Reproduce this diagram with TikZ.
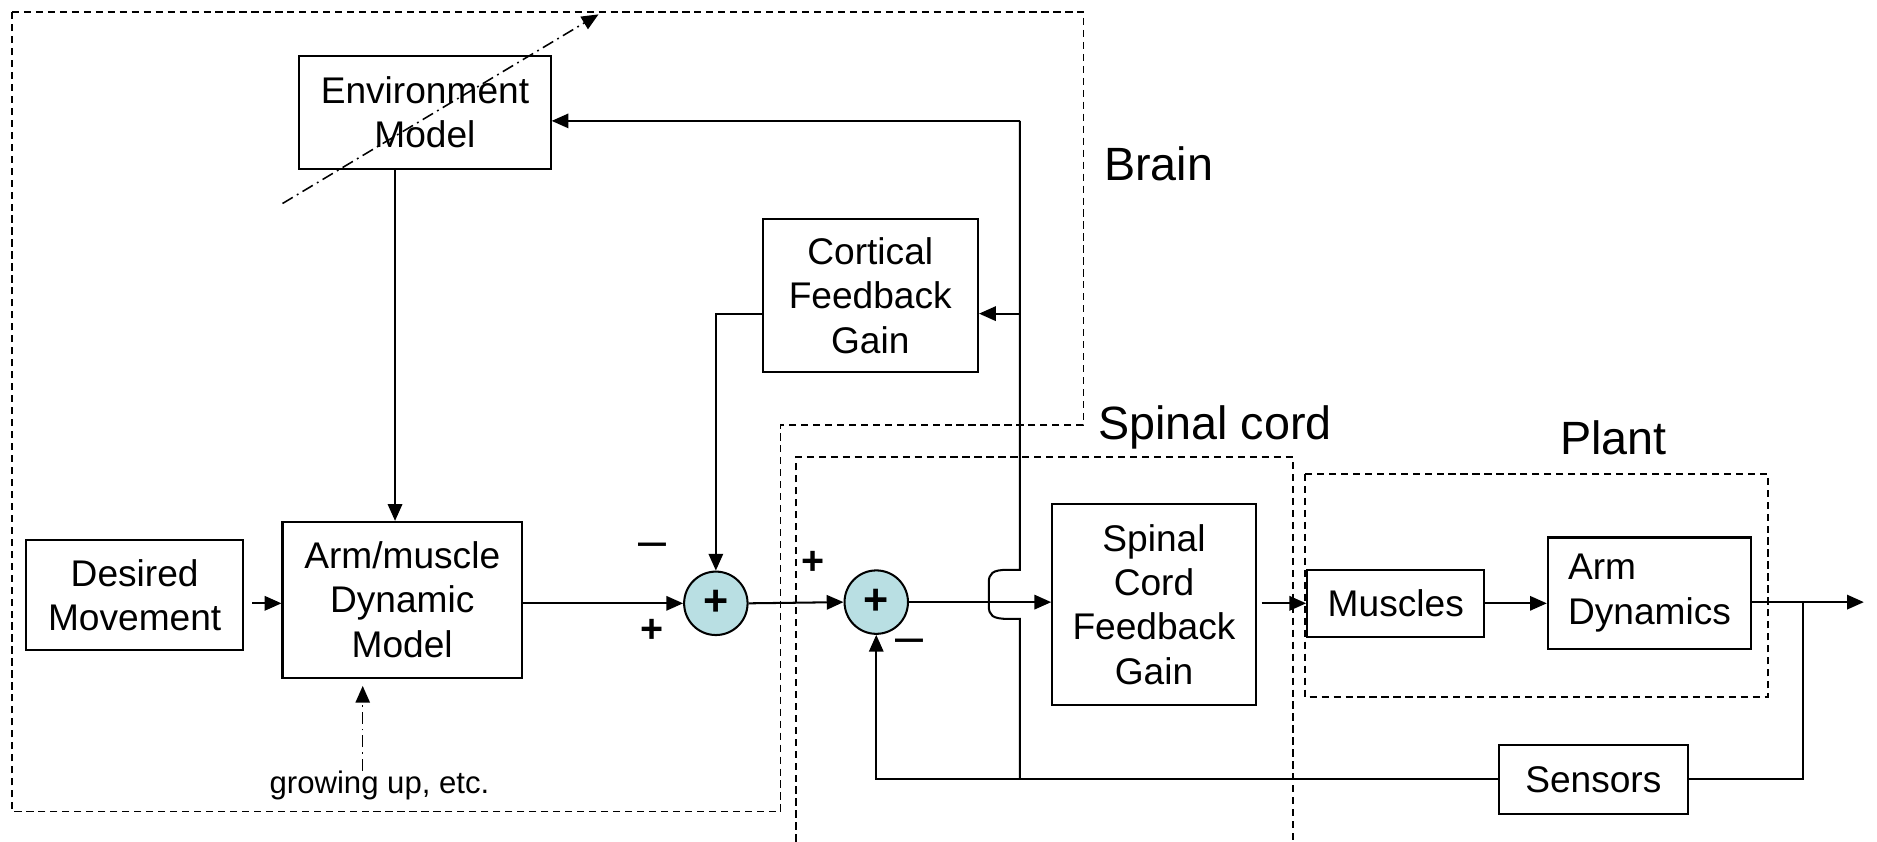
\documentclass[tikz,border=0pt]{standalone}
\usepackage{fontspec}
\setmainfont{Liberation Sans}
\usetikzlibrary{arrows.meta}
\definecolor{sumfill}{HTML}{B9DFE3}
\begin{document}
\begin{tikzpicture}[x=1pt,y=-1pt,
  box/.style={draw,line width=1.7pt,inner sep=0pt,align=center,font=\fontsize{31}{37}\selectfont},
  sumnode/.style={circle,draw,line width=1.7pt,fill=sumfill,minimum size=53pt,inner sep=0pt,font=\fontsize{36}{36}\selectfont\bfseries},
  arr/.style={line width=1.7pt,-{Triangle[length=14pt,width=12pt]}},
  wire/.style={line width=1.7pt},
  region/.style={line width=1.4pt,dash pattern=on 6pt off 4pt},
  dasharr/.style={line width=1.3pt,dash pattern=on 10pt off 4pt on 1.5pt off 4pt,-{Triangle[length=14pt,width=12pt]}},
  sign/.style={font=\fontsize{33}{33}\selectfont\bfseries,inner sep=0pt},
  minus/.style={font=\fontsize{42}{42}\selectfont,inner sep=0pt},
  title/.style={font=\fontsize{39}{39}\selectfont,inner sep=0pt}
]
\useasboundingbox (0,0) rectangle (1568,703);

% region boundaries
\draw[region] (10,10) -- (905,10) -- (905,355) -- (652,355) -- (652,678) -- (10,678) -- cycle;
\draw[region] (665,703) -- (665,382) -- (1080,382) -- (1080,703);
\draw[region] (1090,396) rectangle (1477,582);
\node[title] (brain) at (968,137) {Brain};
\node[title] (spcord) at (1015,357) {Spinal cord};
\node[title] (plant) at (1348,366) {Plant};

% blocks
\node[box,minimum width=210pt,minimum height=94pt] (env) at (355,94) {Environment\\Model};
\node[box,minimum width=181pt,minimum height=92pt] (desired) at (112.5,497) {Desired\\Movement};
\node[box,minimum width=200pt,minimum height=130pt] (arm) at (336,501) {Arm/muscle\\Dynamic\\Model};
\node[box,minimum width=180pt,minimum height=128pt] (cort) at (727,247) {Cortical\\Feedback\\Gain};
\node[box,minimum width=170pt,minimum height=168pt] (spinal) at (964,505) {Spinal\\Cord\\Feedback\\Gain};
\node[box,minimum width=148pt,minimum height=56pt] (muscles) at (1166,504) {Muscles};
\node[box,minimum width=170pt,minimum height=93pt,align=left] (armdyn) at (1378,495.5) {Arm\\Dynamics};
\node[box,minimum width=158pt,minimum height=58pt] (sensors) at (1331,651) {Sensors};
\node[font=\fontsize{26}{26}\selectfont,inner sep=0pt] (grow) at (317,656) {growing up, etc.};

\node[sumnode] (sum1) at (598,504) {+};
\node[sumnode] (sum2) at (732,503) {+};

% signs
\node[minus] (m1) at (545,460) {–};
\node[sign] (p1) at (545,527) {+};
\node[sign] (p2) at (679,470) {+};
\node[minus] (m2) at (760,540) {–};

% helper coordinates
\coordinate (c330) at (330,0);
\coordinate (gtip) at (303,573);
\coordinate (d1) at (236,170);
\coordinate (d2) at (500,12);
\coordinate (fbB) at (852,651);
\coordinate (fbC) at (852,262);
\coordinate (fbT) at (852,101);
\coordinate (br) at (1506,503);
\coordinate (out) at (1557,503);

% connectors
\draw[dasharr] (d1) -- (d2);
\draw[arr] (env.south -| c330) -- (arm.north -| c330);
\draw[dasharr] (grow.north -| gtip) -- (gtip);
\draw[arr] ([xshift=7pt]desired.east |- sum1.west) -- (arm.west |- sum1.west);
\draw[arr] (arm.east |- sum1.west) -- (sum1.west);
\draw[arr] (fbC -| cort.west) -| (sum1.north);
\draw[arr] (sum1.east) -- (sum2.west);
\draw[arr] (sum2.east) -- (sum2.east -| spinal.west);
\draw[arr] ([xshift=4pt]spinal.east |- muscles.west) -- (muscles.west);
\draw[arr] (muscles.east) -- (muscles.east -| armdyn.west);
\draw[arr] (armdyn.east |- out) -- (out);
\draw[wire] (br) |- (sensors.east);
\draw[arr] (sensors.west) -| (sum2.south);
\draw[wire] (fbB) -- (852,517) -- (842,517) .. controls (829,517) and (826,514) .. (826,506)
  -- (826,487) .. controls (826,479) and (829,476) .. (842,476) -- (852,476) -- (fbT);
\draw[arr] (fbT) -- (fbT -| env.east);
\draw[arr] (fbC) -- (fbC -| cort.east);
\end{tikzpicture}
\end{document}
